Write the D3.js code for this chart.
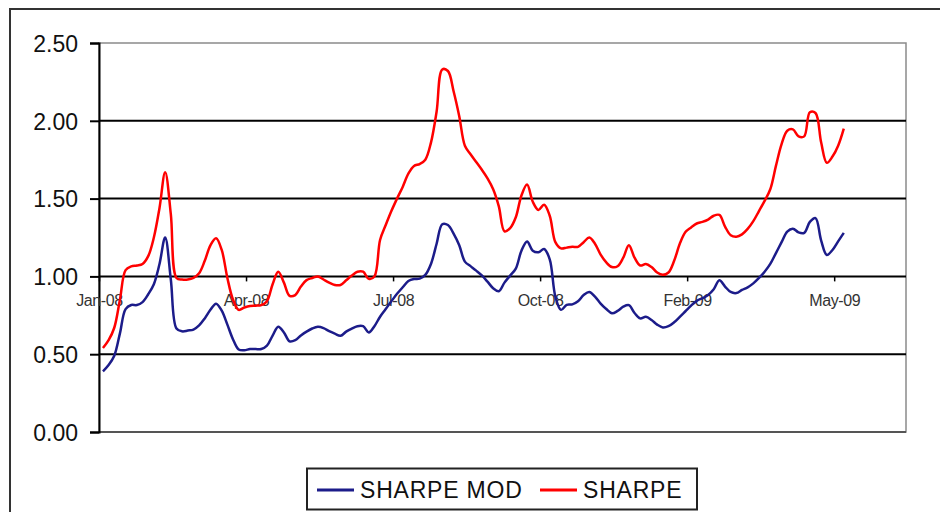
<!DOCTYPE html>
<html>
<head>
<meta charset="utf-8">
<script src="https://cdn.jsdelivr.net/npm/d3@7"></script>
<style>
  body { margin: 0; background: #fff; }
  svg text { font-family: "Liberation Sans", Arial, sans-serif; fill: #111; }
</style>
</head>
<body>
<div id="chart"></div>
<script>
// half-week steps from Jan-08 to mid May-09
var sharpeMod = [0.39,0.43,0.49,0.634,0.79,0.816,0.816,0.835,0.885,0.95,1.08,1.25,0.98,0.665,0.647,0.652,0.658,0.685,0.73,0.785,
  0.825,0.78,0.69,0.595,0.53,0.525,0.533,0.533,0.533,0.555,0.62,0.677,0.64,0.583,0.59,0.62,0.645,0.665,0.676,0.668,
  0.648,0.632,0.618,0.645,0.665,0.68,0.68,0.64,0.68,0.741,0.79,0.84,0.888,0.93,0.97,0.983,0.986,1.01,1.08,1.21,
  1.335,1.33,1.275,1.2,1.095,1.066,1.037,1.006,0.966,0.924,0.905,0.96,1.005,1.05,1.165,1.225,1.165,1.155,1.176,1.11,
  0.87,0.785,0.817,0.82,0.84,0.88,0.9,0.87,0.825,0.79,0.763,0.778,0.805,0.815,0.765,0.73,0.74,0.72,0.69,0.672,
  0.68,0.705,0.74,0.776,0.812,0.843,0.86,0.88,0.917,0.975,0.935,0.9,0.893,0.913,0.93,0.955,0.99,1.03,1.08,1.15,
  1.22,1.288,1.307,1.283,1.28,1.35,1.375,1.23,1.138,1.17,1.225,1.28];
var sharpe = [0.54,0.59,0.67,0.85,1.04,1.064,1.07,1.08,1.13,1.25,1.44,1.67,1.4,0.99,0.98,0.98,0.99,1.02,1.1,1.2,
  1.245,1.17,0.99,0.85,0.785,0.8,0.81,0.812,0.815,0.84,0.95,1.03,0.96,0.875,0.88,0.935,0.976,0.99,1.0,0.98,
  0.96,0.945,0.945,0.975,1.005,1.03,1.03,0.985,1.0,1.234,1.33,1.42,1.5,1.575,1.66,1.71,1.722,1.75,1.86,2.06,
  2.33,2.32,2.19,2.03,1.84,1.785,1.735,1.685,1.63,1.56,1.45,1.29,1.31,1.38,1.52,1.59,1.48,1.427,1.46,1.39,
  1.22,1.18,1.185,1.19,1.19,1.22,1.25,1.21,1.14,1.09,1.06,1.065,1.12,1.2,1.12,1.07,1.08,1.06,1.025,1.01,
  1.025,1.1,1.21,1.285,1.315,1.34,1.35,1.365,1.39,1.395,1.32,1.265,1.255,1.27,1.305,1.355,1.42,1.485,1.56,1.71,
  1.85,1.936,1.945,1.9,1.9,2.055,2.05,1.86,1.73,1.77,1.84,1.95];
var xTickPos = [0, 26, 52, 78, 104, 130];
var xTickLabels = ["Jan-08", "Apr-08", "Jul-08", "Oct-08", "Feb-09", "May-09"];
var yTicks = [0, 0.5, 1.0, 1.5, 2.0, 2.5];
var seriesNames = ["SHARPE MOD", "SHARPE"];
var seriesColors = ["#1c1c8a", "#ff0000"];

var W = 940, H = 512;
var plotL = 99, plotR = 906, plotT = 43, plotB = 432;

var svg = d3.select("#chart").append("svg").attr("width", W).attr("height", H);

// outer frame
svg.append("rect").attr("x", 10).attr("y", 9).attr("width", W).attr("height", H)
  .attr("fill", "none").attr("stroke", "#333").attr("stroke-width", 2);

var x = d3.scaleLinear().domain([0, 142.7]).range([plotL, plotR]);
var y = d3.scaleLinear().domain([0, 2.5]).range([plotB, plotT]);

// plot frame
svg.append("rect").attr("x", plotL).attr("y", plotT).attr("width", plotR - plotL).attr("height", plotB - plotT)
  .attr("fill", "none").attr("stroke", "#8a8a8a").attr("stroke-width", 1.5);

// gridlines
svg.append("g").selectAll("line").data(yTicks.filter(function(d) { return d > 0 && d < 2.5; }))
  .enter().append("line")
  .attr("x1", plotL).attr("x2", plotR)
  .attr("y1", function(d) { return y(d); }).attr("y2", function(d) { return y(d); })
  .attr("stroke", "#000").attr("stroke-width", 2);
svg.append("line").attr("x1", plotL).attr("x2", plotR).attr("y1", y(0)).attr("y2", y(0))
  .attr("stroke", "#555").attr("stroke-width", 2);

// y axis
var yAxis = svg.append("g").attr("transform", "translate(" + plotL + ",0)")
  .call(d3.axisLeft(y).tickValues(yTicks).tickFormat(d3.format(".2f")).tickSize(9).tickPadding(12));
yAxis.select(".domain").attr("stroke", "#000").attr("stroke-width", 2);
yAxis.selectAll(".tick line").attr("stroke", "#000").attr("stroke-width", 2);
yAxis.selectAll("text").style("font-size", "23px").attr("dy", "0.36em");

// x axis crossing at 1.00
var xAxis = svg.append("g").attr("transform", "translate(0," + y(1.0) + ")")
  .call(d3.axisBottom(x).tickValues(xTickPos).tickFormat(function(d, i) { return xTickLabels[i]; })
    .tickSize(5).tickPadding(13));
xAxis.select(".domain").remove();
xAxis.selectAll(".tick line").attr("stroke", "#000").attr("stroke-width", 1.5);
xAxis.selectAll("text").style("font-size", "16px").style("letter-spacing", "-0.4px").style("fill", "#333");

// series
var line = d3.line()
  .x(function(d, i) { return x(i + 0.7); })
  .y(function(d) { return y(d); })
  .curve(d3.curveCatmullRom.alpha(0.5));

[sharpeMod, sharpe].forEach(function(s, k) {
  svg.append("path").datum(s).attr("d", line)
    .attr("fill", "none").attr("stroke", seriesColors[k]).attr("stroke-width", 2.5)
    .attr("stroke-linejoin", "round");
});

// legend
var lg = svg.append("g");
lg.append("rect").attr("x", 307).attr("y", 468.5).attr("width", 390).attr("height", 41)
  .attr("fill", "#fff").attr("stroke", "#222").attr("stroke-width", 2);
var legendX = [317, 540];
seriesNames.forEach(function(n, k) {
  lg.append("line").attr("x1", legendX[k]).attr("x2", legendX[k] + 37).attr("y1", 490).attr("y2", 490)
    .attr("stroke", seriesColors[k]).attr("stroke-width", 3);
  lg.append("text").attr("x", legendX[k] + 43).attr("y", 498).text(n)
    .style("font-size", "23px").style("letter-spacing", "0.8px");
});
</script>
</body>
</html>
